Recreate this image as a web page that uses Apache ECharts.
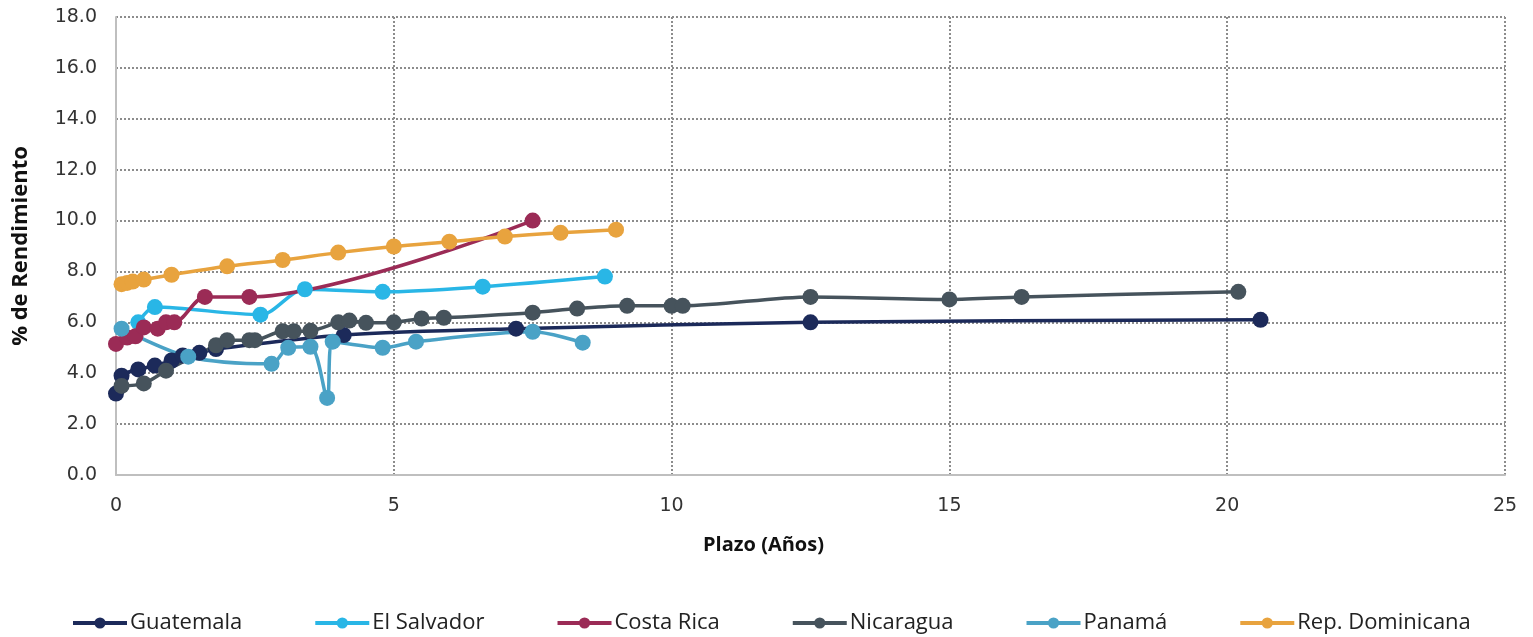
<!DOCTYPE html>
<html>
<head>
<meta charset="utf-8">
<script src="https://cdn.jsdelivr.net/npm/echarts@6/dist/echarts.min.js"></script>
<style>
  html, body { margin: 0; padding: 0; background: #fff; }
  #chart { width: 1533px; height: 637px; }
</style>
</head>
<body>
<div id="chart"></div>
<script>
// plazo (años), % de rendimiento
const guatemala = [[0, 3.2], [0.1, 3.9], [0.4, 4.15], [0.7, 4.3], [1.0, 4.5], [1.2, 4.7], [1.5, 4.8], [1.8, 4.95], [4.1, 5.5], [7.2, 5.75], [12.5, 6.0], [20.6, 6.1]];
const elSalvador = [[0.4, 6.0], [0.7, 6.6], [2.6, 6.3], [3.4, 7.3], [4.8, 7.2], [6.6, 7.4], [8.8, 7.8]];
const costaRica = [[0, 5.15], [0.2, 5.4], [0.35, 5.45], [0.5, 5.8], [0.75, 5.75], [0.9, 6.0], [1.05, 6.0], [1.6, 7.0], [2.4, 7.0], [7.5, 10.0]];
const nicaragua = [[0.1, 3.5], [0.5, 3.6], [0.9, 4.1], [1.8, 5.1], [2.0, 5.3], [2.4, 5.3], [2.5, 5.3], [3.0, 5.65], [3.2, 5.65], [3.5, 5.67], [4.0, 6.0], [4.2, 6.07], [4.5, 5.98], [5.0, 6.0], [5.5, 6.15], [5.9, 6.18], [7.5, 6.38], [8.3, 6.54], [9.2, 6.65], [10.0, 6.65], [10.2, 6.65], [12.5, 7.0], [15.0, 6.9], [16.3, 7.0], [20.2, 7.2]];
const panama = [[0.1, 5.75], [1.3, 4.65], [2.8, 4.37], [3.1, 5.0], [3.5, 5.04], [3.8, 3.03], [3.9, 5.24], [4.8, 5.0], [5.4, 5.24], [7.5, 5.63], [8.4, 5.2]];
const repDominicana = [[0.1, 7.5], [0.2, 7.55], [0.3, 7.6], [0.5, 7.68], [1.0, 7.87], [2.0, 8.2], [3.0, 8.45], [4.0, 8.74], [5.0, 8.98], [6.0, 9.17], [7.0, 9.37], [8.0, 9.52], [9.0, 9.64]];

const names = ['Guatemala', 'El Salvador', 'Costa Rica', 'Nicaragua', 'Panamá', 'Rep. Dominicana'];
const colors = ['#1c2a5a', '#29b6e6', '#9b2b56', '#46535c', '#4aa2c6', '#e8a33e'];
const allData = [guatemala, elSalvador, costaRica, nicaragua, panama, repDominicana];

const chart = echarts.init(document.getElementById('chart'));

const font = '"Open Sans", sans-serif';
const tickFont = '"DejaVu Sans", sans-serif';

const option = {
  animation: false,
  color: colors,
  textStyle: { fontFamily: font },
  grid: {
    left: 116,
    right: 28,
    top: 17,
    bottom: 162
  },
  legend: {
    data: names,
    left: 66,
    top: 607,
    itemWidth: 54,
    itemHeight: 14,
    itemGap: 71,
    lineStyle: { width: 4 },
    textStyle: { fontSize: 22, color: '#222', fontFamily: font, padding: [0, 0, 0, -2] }
  },
  xAxis: {
    type: 'value',
    min: 0,
    max: 25,
    interval: 5,
    name: 'Plazo (Años)',
    nameLocation: 'middle',
    nameGap: 60,
    nameTextStyle: { fontSize: 20, fontWeight: 'bold', color: '#111', padding: [0, 94, 0, 0] },
    axisLine: { show: true, lineStyle: { color: '#bfbfbf', width: 2 } },
    axisTick: { show: false },
    axisLabel: { fontSize: 19, color: '#333', fontFamily: tickFont, margin: 22 },
    splitLine: { show: true, lineStyle: { type: 'dotted', color: '#8c8c8c', width: 2 } }
  },
  yAxis: {
    type: 'value',
    min: 0,
    max: 18,
    interval: 2,
    name: '% de Rendimiento',
    nameLocation: 'middle',
    nameGap: 84,
    nameTextStyle: { fontSize: 22, fontWeight: 'bold', color: '#111' },
    axisLine: { show: true, lineStyle: { color: '#bfbfbf', width: 2 } },
    axisTick: { show: false },
    axisLabel: { fontSize: 19, color: '#333', fontFamily: tickFont, margin: 19, formatter: v => v.toFixed(1) },
    splitLine: { show: true, lineStyle: { type: 'dotted', color: '#8c8c8c', width: 2 } }
  },
  series: names.map((n, i) => ({
    name: n,
    type: 'line',
    data: allData[i],
    smooth: 0.3,
    symbol: 'circle',
    symbolSize: 16,
    lineStyle: { width: 3.5, color: colors[i] },
    itemStyle: { color: colors[i] }
  }))
};

chart.setOption(option);
</script>
</body>
</html>
